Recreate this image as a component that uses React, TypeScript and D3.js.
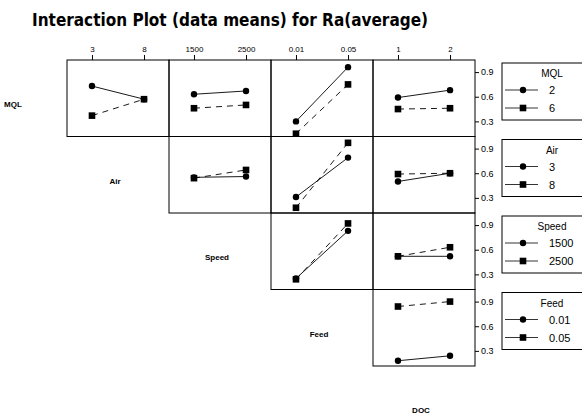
import { useEffect, useRef } from 'react';
import * as d3 from 'd3';

const factorNames = ['MQL', 'Air', 'Speed', 'Feed', 'DOC'];
const mqlLevels = ['2', '6'];
const airLevels = ['3', '8'];
const speedLevels = ['1500', '2500'];
const feedLevels = ['0.01', '0.05'];
const docLevels = ['1', '2'];
const levelsByFactor = [mqlLevels, airLevels, speedLevels, feedLevels, docLevels];

// means of Ra: [trace level][x level]
const mqlByAir = [[0.73, 0.57], [0.37, 0.57]];
const mqlBySpeed = [[0.63, 0.67], [0.46, 0.5]];
const mqlByFeed = [[0.3, 0.96], [0.15, 0.75]];
const mqlByDoc = [[0.59, 0.68], [0.45, 0.46]];
const airBySpeed = [[0.55, 0.56], [0.54, 0.64]];
const airByFeed = [[0.31, 0.79], [0.18, 0.97]];
const airByDoc = [[0.5, 0.6], [0.59, 0.6]];
const speedByFeed = [[0.25, 0.83], [0.24, 0.92]];
const speedByDoc = [[0.52, 0.52], [0.52, 0.63]];
const feedByDoc = [[0.18, 0.24], [0.84, 0.9]];

const yTicks = [0.3, 0.6, 0.9];

// row = trace factor, col = x factor
const panels = [
  { row: 0, col: 1, means: mqlByAir },
  { row: 0, col: 2, means: mqlBySpeed },
  { row: 0, col: 3, means: mqlByFeed },
  { row: 0, col: 4, means: mqlByDoc },
  { row: 1, col: 2, means: airBySpeed },
  { row: 1, col: 3, means: airByFeed },
  { row: 1, col: 4, means: airByDoc },
  { row: 2, col: 3, means: speedByFeed },
  { row: 2, col: 4, means: speedByDoc },
  { row: 3, col: 4, means: feedByDoc },
];

const App = () => {
  const ref = useRef<SVGSVGElement>(null);

  useEffect(() => {
    const svg = d3.select(ref.current);
    svg.selectAll('*').remove();

    const left = 67;
    const top = 60;
    const cellW = 102;
    const cellH = 76.5;
    const font = 'Liberation Sans, Arial, sans-serif';

    const yScale = d3.scaleLinear().domain([0.116, 1.047]).range([cellH, 0]);
    const xScaleFor = (c: number) =>
      d3.scalePoint().domain(levelsByFactor[c]).range([0, cellW]).padding(0.48);

    // title
    svg.append('text')
      .attr('x', 32)
      .attr('y', 26)
      .attr('font-family', 'DejaVu Sans, sans-serif')
      .attr('font-weight', 'bold')
      .attr('font-size', 17)
      .attr('textLength', 396)
      .attr('lengthAdjust', 'spacingAndGlyphs')
      .text('Interaction Plot (data means) for Ra(average)');

    // panels
    panels.forEach(p => {
      const x = xScaleFor(p.col);
      const g = svg.append('g')
        .attr('transform', `translate(${left + (p.col - 1) * cellW},${top + p.row * cellH})`);

      g.append('rect')
        .attr('width', cellW)
        .attr('height', cellH)
        .attr('fill', 'none')
        .attr('stroke', '#000')
        .attr('stroke-width', 1);

      const levels = levelsByFactor[p.col];
      p.means.forEach((vals, i) => {
        const pts = vals.map((v, j) => [x(levels[j])!, yScale(v)] as [number, number]);
        g.append('path')
          .attr('d', d3.line()(pts))
          .attr('fill', 'none')
          .attr('stroke', '#000')
          .attr('stroke-width', 0.9)
          .attr('stroke-dasharray', i === 0 ? null : '6,5');
        pts.forEach(([px, py]) => {
          if (i === 0) {
            g.append('circle').attr('cx', px).attr('cy', py).attr('r', 3.2).attr('fill', '#000');
          } else {
            g.append('rect').attr('x', px - 3.3).attr('y', py - 3.3)
              .attr('width', 6.6).attr('height', 6.6).attr('fill', '#000');
          }
        });
      });
    });

    // top axes
    for (let c = 1; c < 5; c++) {
      const ax = svg.append('g')
        .attr('transform', `translate(${left + (c - 1) * cellW},${top})`)
        .call(d3.axisTop(xScaleFor(c)).tickSize(5).tickPadding(3));
      ax.select('.domain').remove();
      ax.selectAll('text').attr('font-size', 8).attr('font-family', font);
    }

    // right axes
    for (let r = 0; r < 4; r++) {
      const ax = svg.append('g')
        .attr('transform', `translate(${left + 4 * cellW},${top + r * cellH})`)
        .call(d3.axisRight(yScale).tickValues(yTicks).tickSize(4).tickPadding(2)
          .tickFormat(d3.format('.1f') as any));
      ax.select('.domain').remove();
      ax.selectAll('text').attr('font-size', 9).attr('font-family', font);
    }

    // factor names on the diagonal
    factorNames.forEach((name, i) => {
      svg.append('text')
        .attr('x', left + (i - 1) * cellW + cellW / 2 - 3)
        .attr('y', top + i * cellH + cellH / 2 + 9)
        .attr('text-anchor', 'middle')
        .attr('font-family', font)
        .attr('font-weight', 'bold')
        .attr('font-size', 8)
        .text(name);
    });

    // legends
    for (let r = 0; r < 4; r++) {
      const by = top + r * cellH + 3;
      const lg = svg.append('g').attr('transform', `translate(502,${by})`);
      lg.append('rect')
        .attr('width', 90)
        .attr('height', 57)
        .attr('fill', '#fff')
        .attr('stroke', '#000')
        .attr('stroke-width', 1);
      lg.append('text')
        .attr('x', 50)
        .attr('y', 14)
        .attr('text-anchor', 'middle')
        .attr('font-family', font)
        .attr('font-size', 10)
        .text(factorNames[r]);
      levelsByFactor[r].forEach((lv, i) => {
        const cy = 27 + i * 18;
        lg.append('line')
          .attr('x1', 3).attr('x2', 36).attr('y1', cy).attr('y2', cy)
          .attr('stroke', '#000').attr('stroke-width', 0.8);
        if (i === 0) {
          lg.append('circle').attr('cx', 21).attr('cy', cy).attr('r', 3.2).attr('fill', '#000');
        } else {
          lg.append('rect').attr('x', 17.7).attr('y', cy - 3.3)
            .attr('width', 6.6).attr('height', 6.6).attr('fill', '#000');
        }
        lg.append('text')
          .attr('x', 47)
          .attr('y', cy + 4)
          .attr('font-family', font)
          .attr('font-size', 11)
          .text(lv);
      });
    }
  }, []);

  return (
    <svg
      ref={ref}
      width={582}
      height={417}
      style={{ position: 'absolute', left: 0, top: 0, background: '#fff' }}
    />
  );
};

export default App;
